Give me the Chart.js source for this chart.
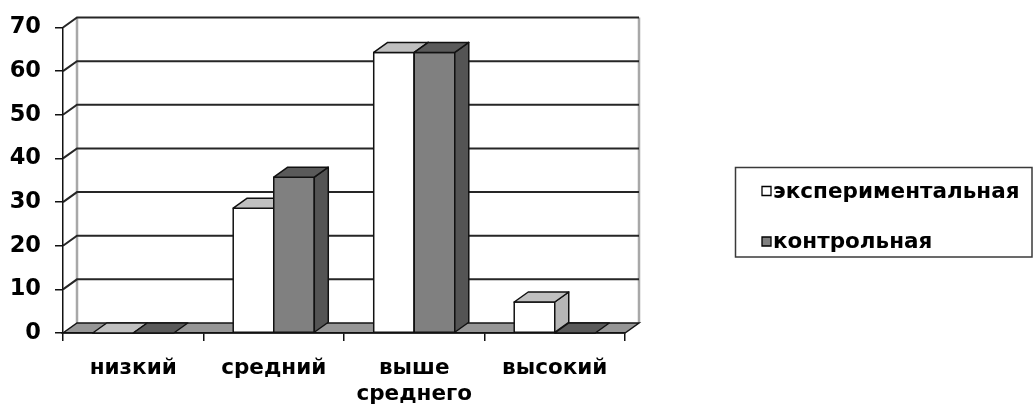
<!DOCTYPE html>
<html>
<head>
<meta charset="utf-8">
<script src="https://cdn.jsdelivr.net/npm/chart.js@4.4.1/dist/chart.umd.min.js"></script>
<style>
  html, body { margin: 0; background: #fff; }
  #wrap { width: 1034px; height: 407px; }
</style>
</head>
<body>
<div id="wrap"><canvas id="chart"></canvas></div>
<script>
// ── Data ──────────────────────────────────────────────────────────────────────
const categories   = ["низкий", "средний", ["выше", "среднего"], "высокий"];
const seriesNames  = ["экспериментальная", "контрольная"];
const experimental = [0, 28.6, 64.3, 7.1];
const control      = [0, 35.7, 64.3, 0];
const yMax         = 70;
const yStep        = 10;

// ── 3D look ───────────────────────────────────────────────────────────────────
const DX = 14, DY = -10;   // depth offset of the back wall
const FONT = "'DejaVu Sans', 'Liberation Sans', Arial, sans-serif";
const faces = [
  { front: "#ffffff", top: "#c0c0c0", side: "#b6b6b6" },
  { front: "#808080", top: "#5a5a5a", side: "#545454" },
];

function poly(ctx, pts, fill) {
  ctx.beginPath();
  ctx.moveTo(pts[0][0], pts[0][1]);
  for (let i = 1; i < pts.length; i++) ctx.lineTo(pts[i][0], pts[i][1]);
  ctx.closePath();
  if (fill) { ctx.fillStyle = fill; ctx.fill(); }
  ctx.stroke();
}

function seg(ctx, pts) {
  ctx.beginPath();
  ctx.moveTo(pts[0][0], pts[0][1]);
  for (let i = 1; i < pts.length; i++) ctx.lineTo(pts[i][0], pts[i][1]);
  ctx.stroke();
}

// walls, gridlines and floor go under the axes
const box3d = {
  id: "box3d",
  beforeDraw(chart) {
    const { ctx, chartArea: a, scales: { y } } = chart;
    ctx.save();
    ctx.fillStyle = "#fff";
    ctx.fillRect(a.left, a.top + DY, a.right - a.left + DX, a.bottom - a.top);

    // wall edges
    ctx.strokeStyle = "#a8a8a8";
    ctx.lineWidth = 2.5;
    seg(ctx, [[a.left + DX, a.top + DY], [a.left + DX, a.bottom + DY]]);
    seg(ctx, [[a.right + DX, a.top + DY], [a.right + DX, a.bottom + DY]]);

    // gridlines run across the side wall and the back wall
    ctx.strokeStyle = "#262626";
    ctx.lineWidth = 2;
    y.ticks.forEach(t => {
      if (t.value === 0) return;
      const py = y.getPixelForValue(t.value);
      seg(ctx, [[a.left, py], [a.left + DX, py + DY], [a.right + DX, py + DY]]);
    });

    // floor
    ctx.strokeStyle = "#151515";
    ctx.lineWidth = 1.5;
    poly(ctx, [[a.left, a.bottom], [a.right, a.bottom], [a.right + DX, a.bottom + DY], [a.left + DX, a.bottom + DY]], "#969696");
    ctx.restore();
  },

  // boxes drawn category by category so nearer faces cover farther ones
  afterDatasetsDraw(chart) {
    const { ctx } = chart;
    ctx.save();
    ctx.strokeStyle = "#111";
    ctx.lineWidth = 1.5;
    ctx.lineJoin = "round";
    for (let j = 0; j < chart.data.labels.length; j++) {
      chart.data.datasets.forEach((ds, i) => {
        const bar = chart.getDatasetMeta(i).data[j];
        const { x, y, base, width } = bar.getProps(["x", "y", "base", "width"], true);
        const l = x - width / 2, r = x + width / 2;
        const f = faces[i];
        if (base - y > 0.5) {
          poly(ctx, [[l, y], [r, y], [r, base], [l, base]], f.front);
          poly(ctx, [[r, y], [r + DX, y + DY], [r + DX, base + DY], [r, base]], f.side);
        }
        poly(ctx, [[l, y], [r, y], [r + DX, y + DY], [l + DX, y + DY]], f.top);
      });
    }
    ctx.restore();
  },

  // framed legend to the right of the plot
  afterDraw(chart) {
    const { ctx } = chart;
    ctx.save();
    ctx.strokeStyle = "#3a3a3a";
    ctx.lineWidth = 1.5;
    ctx.strokeRect(735.5, 167.5, 296.5, 89.5);
    ctx.font = "bold 21.5px " + FONT;
    ctx.textBaseline = "middle";
    const rows = [191, 241.5];
    chart.data.datasets.forEach((ds, i) => {
      ctx.lineWidth = 1.3;
      ctx.strokeStyle = "#000";
      poly(ctx, [[762, rows[i] - 4.5], [771, rows[i] - 4.5], [771, rows[i] + 4.5], [762, rows[i] + 4.5]], faces[i].front);
      ctx.fillStyle = "#000";
      ctx.fillText(ds.label, 773, rows[i] + 1);
    });
    ctx.restore();
  },
};

new Chart(document.getElementById("chart"), {
  type: "bar",
  data: {
    labels: categories,
    datasets: [
      { label: seriesNames[0], data: experimental, backgroundColor: "rgba(0,0,0,0)", borderWidth: 0 },
      { label: seriesNames[1], data: control,      backgroundColor: "rgba(0,0,0,0)", borderWidth: 0 },
    ],
  },
  options: {
    responsive: true,
    maintainAspectRatio: false,
    animation: false,
    events: [],
    layout: { padding: { top: 24, right: 409, bottom: 0, left: 0 } },
    datasets: { bar: { categoryPercentage: 0.577, barPercentage: 1 } },
    plugins: { legend: { display: false }, tooltip: { enabled: false } },
    scales: {
      x: {
        afterFit: s => { s.height = 74; },
        grid: { drawOnChartArea: false, drawTicks: true, tickLength: 8, color: "#111", lineWidth: 1.5, offset: true },
        border: { display: true, color: "#111", width: 1.5 },
        ticks: { color: "#000", padding: 14, maxRotation: 0, autoSkip: false, font: { family: FONT, size: 21.5, weight: "bold", lineHeight: 1.22 } },
      },
      y: {
        min: 0,
        max: yMax,
        afterFit: s => { s.width = 63; },
        grid: { drawOnChartArea: false, drawTicks: true, tickLength: 8, color: "#111", lineWidth: 1.5 },
        border: { display: true, color: "#111", width: 1.5 },
        ticks: { stepSize: yStep, color: "#000", padding: 14, font: { family: FONT, size: 22.5, weight: "bold" } },
      },
    },
  },
  plugins: [box3d],
});
</script>
</body>
</html>
